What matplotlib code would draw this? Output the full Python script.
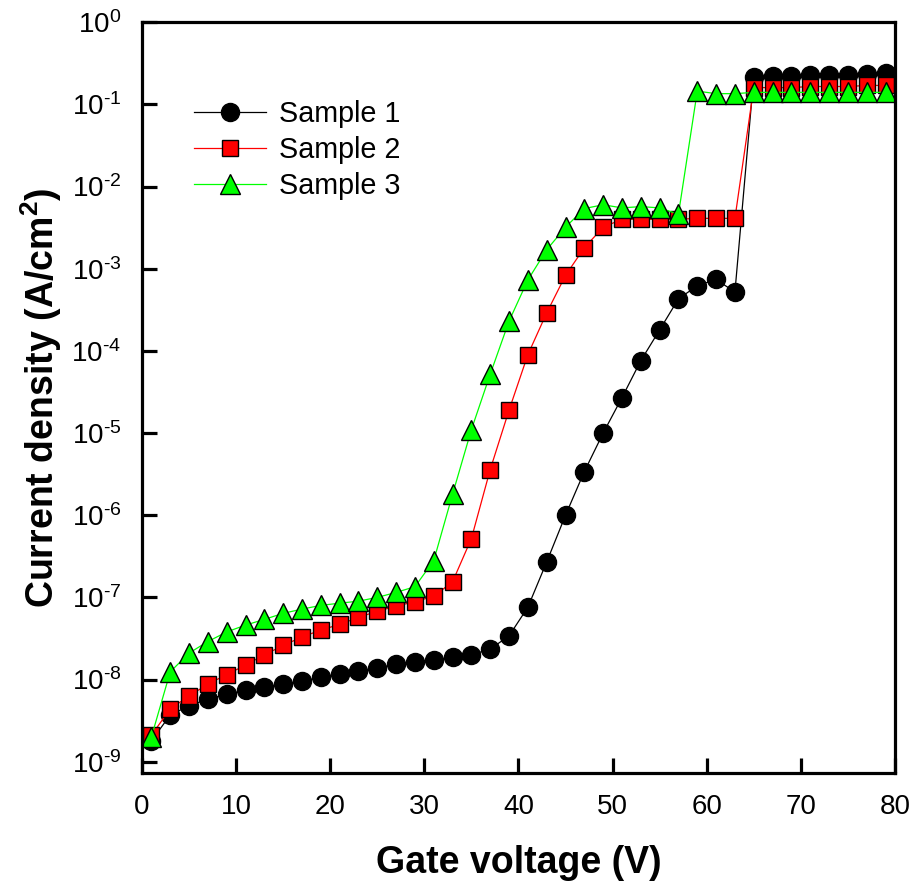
import numpy as np
import matplotlib
matplotlib.use("Agg")
import matplotlib.pyplot as plt
from matplotlib.ticker import FixedLocator, FuncFormatter

plt.rcParams['font.family'] = ['Liberation Sans', 'DejaVu Sans']
plt.rcParams['mathtext.fontset'] = 'custom'
plt.rcParams['mathtext.rm'] = 'Liberation Sans'
plt.rcParams['mathtext.bf'] = 'Liberation Sans:bold'
plt.rcParams['mathtext.it'] = 'Liberation Sans:italic'
plt.rcParams['axes.unicode_minus'] = False

# gate voltage (V)
voltage = np.arange(1, 80, 2)

# current density (A/cm2)
sample1 = [1.8e-9, 3.7e-9, 4.8e-9, 5.8e-9, 6.6e-9, 7.4e-9, 8.1e-9, 8.8e-9,
           9.5e-9, 1.07e-8, 1.17e-8, 1.27e-8, 1.38e-8, 1.54e-8, 1.63e-8,
           1.73e-8, 1.87e-8, 2.0e-8, 2.35e-8, 3.4e-8, 7.6e-8, 2.7e-7,
           1.0e-6, 3.4e-6, 1.0e-5, 2.7e-5, 7.6e-5, 1.8e-4, 4.3e-4, 6.2e-4,
           7.4e-4, 5.2e-4, 0.215, 0.22, 0.22, 0.225, 0.23, 0.23, 0.235, 0.24]
sample2 = [2.1e-9, 4.4e-9, 6.3e-9, 8.8e-9, 1.15e-8, 1.5e-8, 2.0e-8, 2.6e-8,
           3.3e-8, 4.0e-8, 4.7e-8, 5.7e-8, 6.8e-8, 7.8e-8, 8.9e-8, 1.03e-7,
           1.55e-7, 5.2e-7, 3.6e-6, 1.9e-5, 9.0e-5, 2.9e-4, 8.3e-4, 1.8e-3,
           3.2e-3, 4.0e-3, 4.0e-3, 4.0e-3, 4.0e-3, 4.1e-3, 4.1e-3, 4.1e-3,
           0.16, 0.16, 0.16, 0.165, 0.165, 0.165, 0.17, 0.17]
sample3 = [2.0e-9, 1.24e-8, 2.1e-8, 2.9e-8, 3.8e-8, 4.6e-8, 5.4e-8, 6.4e-8,
           7.2e-8, 8.0e-8, 8.5e-8, 9.0e-8, 1.0e-7, 1.15e-7, 1.35e-7, 2.8e-7,
           1.8e-6, 1.1e-5, 5.2e-5, 2.3e-4, 7.3e-4, 1.7e-3, 3.2e-3, 5.4e-3,
           6.0e-3, 5.5e-3, 5.7e-3, 5.5e-3, 4.6e-3, 0.145, 0.135, 0.135,
           0.14, 0.14, 0.14, 0.14, 0.14, 0.14, 0.14, 0.14]

x_ticks = np.arange(0, 81, 10)
y_exponents = np.arange(-9, 1)


def log_label(v, pos):
    e = int(round(np.log10(v)))
    if e < 0:
        return r'$\mathdefault{10^{\text{-%d}}}$' % (-e)
    return r'$\mathdefault{10^{%d}}$' % e


fig = plt.figure(figsize=(9.16, 8.88), dpi=100)
ax = fig.add_axes([0.155, 0.1295, 0.822, 0.8455])

ax.plot(voltage, sample1, color='black', lw=0.9, marker='o', ms=13,
        mfc='black', mec='black', mew=1, label='Sample 1')
ax.plot(voltage, sample2, color='#ff0000', lw=0.9, marker='s', ms=11,
        mfc='#ff0000', mec='black', mew=1, label='Sample 2')
ax.plot(voltage, sample3, color='#00ff00', lw=0.9, marker='^', ms=14,
        mfc='#00ff00', mec='black', mew=1, label='Sample 3')

ax.set_yscale('log')
ax.set_xlim(0, 80)
ax.set_ylim(10 ** -9.137, 1)
ax.xaxis.set_major_locator(FixedLocator(x_ticks))
ax.yaxis.set_major_locator(FixedLocator(10.0 ** y_exponents))
ax.yaxis.set_minor_locator(plt.NullLocator())
ax.yaxis.set_major_formatter(FuncFormatter(log_label))

for s in ax.spines.values():
    s.set_linewidth(2.3)
ax.tick_params(axis='both', which='major', direction='in', length=11,
               width=2.3, labelsize=20)
ax.tick_params(axis='y', pad=15)
ax.tick_params(axis='x', pad=15)

ax.set_xlabel('Gate voltage (V)', fontsize=27, fontweight='bold', labelpad=18)
ax.set_ylabel(r'Current density (A/cm$\mathbf{^{2}}$)', fontsize=27,
              fontweight='bold', labelpad=5)

ax.legend(loc='upper left', bbox_to_anchor=(0.054, 0.912), frameon=False,
          fontsize=20.7, handlelength=2.5, handletextpad=0.45,
          labelspacing=0.28, borderaxespad=0)

fig.savefig('out.png', dpi=100)
